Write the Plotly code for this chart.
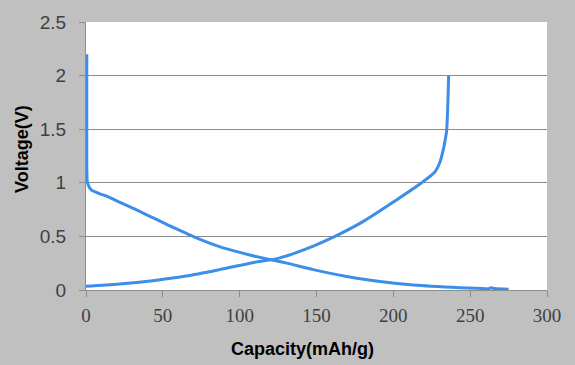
import plotly.graph_objects as go

# Discharge curve (voltage falling)
dis_cap = [0.5, 0.5, 0.6, 1.0, 3.3, 8.7, 15.2, 21.7, 32.5, 43.4, 54.2, 65, 73.8, 86.8, 97.6, 108.5, 119.3, 130,
           147.9, 169.6, 191.3, 213, 243.4, 258, 262, 263.5, 266, 275]
dis_v = [2.2, 1.5, 1.1, 1.0, 0.935, 0.90, 0.865, 0.82, 0.75, 0.675, 0.60, 0.53, 0.475, 0.405, 0.36, 0.32, 0.285, 0.253,
         0.19, 0.126, 0.08, 0.047, 0.022, 0.014, 0.011, 0.02, 0.013, 0.008]

# Charge curve (voltage rising)
chg_cap = [0, 21.7, 43.4, 65, 86.8, 108.5, 126.2, 147.9, 162, 180.5, 202.1, 218.4, 227, 230, 232.5, 234, 234.7, 235.5, 236]
chg_v = [0.035, 0.056, 0.087, 0.13, 0.19, 0.255, 0.30, 0.41, 0.5, 0.64, 0.84, 1.0, 1.1, 1.18, 1.31, 1.42, 1.49, 1.75, 2.0]

x_ticks = [0, 50, 100, 150, 200, 250, 300]
y_ticks = [0, 0.5, 1, 1.5, 2, 2.5]
y_tick_text = ["0", "0.5", "1", "1.5", "2", "2.5"]

line_color = "#3c8ee8"

W, H = 575, 365
ML, MR, MT, MB = 86, 28, 22, 75

fig = go.Figure()
fig.add_trace(go.Scatter(x=dis_cap, y=dis_v, mode="lines",
                         line=dict(color=line_color, width=3, shape="spline", smoothing=0.8),
                         showlegend=False, hoverinfo="skip"))
fig.add_trace(go.Scatter(x=chg_cap, y=chg_v, mode="lines",
                         line=dict(color=line_color, width=3, shape="spline", smoothing=0.8),
                         showlegend=False, hoverinfo="skip"))

pw = W - ML - MR
ph = H - MT - MB


def px_to_paper(x, y):
    return (x - ML) / pw, (H - MB - y) / ph


cx, cy = px_to_paper(302, 349)
vx, vy = px_to_paper(22, 149)

fig.update_layout(
    width=W, height=H,
    margin=dict(l=ML, r=MR, t=MT, b=MB),
    paper_bgcolor="#c0c0c0",
    plot_bgcolor="#ffffff",
    xaxis=dict(range=[0, 300], tickvals=x_ticks, showgrid=False, zeroline=False,
               showline=True, linecolor="#8c8c8c", linewidth=1,
               ticks="outside", ticklen=6, tickcolor="#8c8c8c", ticklabelstandoff=2,
               tickfont=dict(family="Liberation Serif, Times New Roman, serif", size=19, color="#404040")),
    yaxis=dict(range=[0, 2.5], tickvals=y_ticks, ticktext=y_tick_text,
               showgrid=True, gridcolor="#8c8c8c", gridwidth=1, zeroline=False,
               showline=True, linecolor="#8c8c8c", linewidth=1,
               ticks="outside", ticklen=6, tickcolor="#8c8c8c", ticklabelstandoff=9,
               tickfont=dict(family="Liberation Sans, Arial, sans-serif", size=19, color="#404040")),
    annotations=[
        dict(text="<b>Capacity(mAh/g)</b>", x=cx, y=cy, xref="paper", yref="paper",
             xanchor="center", yanchor="middle",
             showarrow=False, font=dict(family="Liberation Sans, Arial, sans-serif", size=18, color="#000000")),
        dict(text="<b>Voltage(V)</b>", x=vx, y=vy, xref="paper", yref="paper", textangle=-90,
             xanchor="center", yanchor="middle",
             showarrow=False, font=dict(family="Liberation Sans, Arial, sans-serif", size=18, color="#000000")),
    ],
    hovermode=False,
)

fig.write_html("out.html", config={"displayModeBar": False},
               post_script="document.body.style.margin='0';document.body.style.padding='0';")
